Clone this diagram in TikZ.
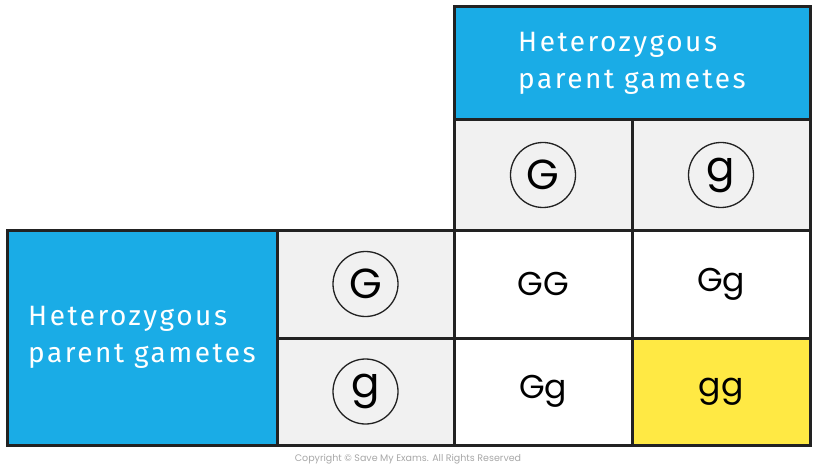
\documentclass[tikz,border=0pt]{standalone}
\usepackage{fontspec}
\setmainfont{Poppins}
\newfontfamily\hdfont[LetterSpace=9]{Fira Sans}
\definecolor{hblue}{HTML}{1AACE6}
\definecolor{cgray}{HTML}{F1F1F1}
\definecolor{cyell}{HTML}{FFE944}
\definecolor{bline}{HTML}{222222}
\definecolor{copyg}{HTML}{A8A8A8}
\tikzset{
  cell/.style={draw=bline, line width=3pt, rectangle, inner sep=0pt, outer sep=0pt},
  header/.style={cell, fill=hblue, text=white, font=\hdfont\fontsize{28}{37}\selectfont, align=left},
  gcell/.style={cell, fill=cgray, minimum width=178pt},
  ocell/.style={cell, fill=white, minimum width=178pt, font=\fontsize{33}{36}\selectfont},
  gamete/.style={circle, draw=bline, line width=1.3pt, minimum size=65pt, inner sep=0pt, font=\fontsize{42}{42}\selectfont},
}
\begin{document}
\begin{tikzpicture}[x=1pt,y=-1pt]
\useasboundingbox (0,0) rectangle (818,470);
\fill[white] (0,0) rectangle (818,470);
% top header
\node[header, minimum width=356pt, minimum height=113pt] (th) at (632,63.5) {Heterozygous\\parent gametes};
% top gamete cells
\node[gcell, minimum height=110pt] (cG) at (543,175) {};
\node[gcell, minimum height=110pt] (cg) at (721,175) {};
% left header
\node[header, minimum width=270pt, minimum height=215pt] (lh) at (142,337.5) {Heterozygous\\parent gametes};
% left gamete cells
\node[gcell, minimum width=177pt, minimum height=108pt] (rG) at (365.5,284) {};
\node[gcell, minimum width=177pt, minimum height=107pt] (rg) at (365.5,391.5) {};
% offspring
\node[ocell, minimum height=108pt] (o11) at (543,284) {GG};
\node[ocell, minimum height=108pt] (o12) at (721,284) {Gg};
\node[ocell, minimum height=107pt] (o21) at (543,391.5) {Gg};
\node[ocell, fill=cyell, minimum height=107pt] (o22) at (721,391.5) {gg};
% gamete circles
\node[gamete] (gG1) at (cG.center) {G};
\node[gamete] (gg1) at (cg.center) {g};
\node[gamete] (gG2) at (rG.center) {G};
\node[gamete] (gg2) at (rg.center) {g};
% copyright
\node[text=copyg, font=\fontsize{9.5}{10}\selectfont] (copy) at (408,459) {Copyright © Save My Exams. All Rights Reserved};
\end{tikzpicture}
\end{document}
